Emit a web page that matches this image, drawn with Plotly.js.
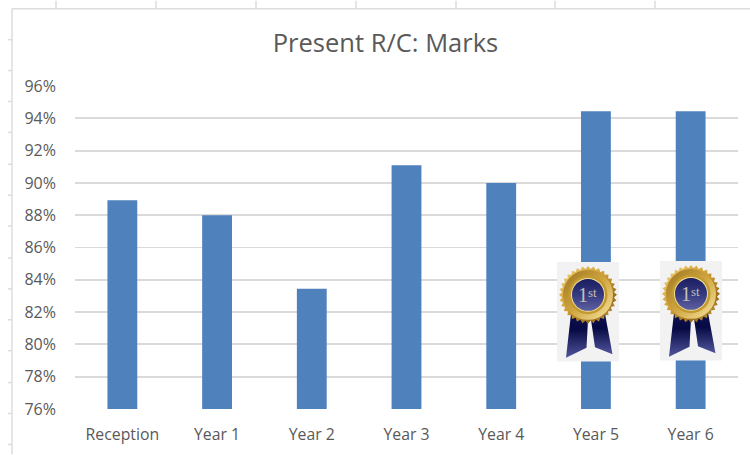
<!DOCTYPE html>
<html><head><meta charset="utf-8">
<script src="https://cdn.plot.ly/plotly-3.0.1.min.js"></script>
<style>html,body{margin:0;padding:0;background:#fff;overflow:hidden}</style>
</head><body><div id="chart" style="width:750px;height:455px"></div>
<script>
const categories = ["Reception","Year 1","Year 2","Year 3","Year 4","Year 5","Year 6"];
const marks = [0.8893,0.88,0.8344,0.911,0.90,0.9443,0.9443];
const tickValues = [0.76,0.78,0.80,0.82,0.84,0.86,0.88,0.90,0.92,0.94,0.96];
const chartTitle = "Present R/C: Marks";

const W=750,H=455,L=75,R=738,T=85.5,B=409.5;
const px=x=>(x-L)/(R-L), py=y=>(B-y)/(B-T);

function burst(cx,cy,r1,r2,n){
  let d="";
  for(let i=0;i<n*2;i++){
    const a=Math.PI*i/n, r=i%2?r2:r1;
    d+=(i?"L":"M")+(cx+r*Math.cos(a)).toFixed(2)+" "+(cy+r*Math.sin(a)).toFixed(2);
  }
  return d+"Z";
}
const medalSvg=`<svg xmlns="http://www.w3.org/2000/svg" width="186" height="300" viewBox="0 0 62 100">
<defs>
<linearGradient id="g" x1="0" y1="0" x2="1" y2="1"><stop offset="0" stop-color="#f3d277"/><stop offset="0.45" stop-color="#cf9f35"/><stop offset="0.75" stop-color="#9a6e1c"/><stop offset="1" stop-color="#e6c060"/></linearGradient>
<linearGradient id="h" x1="1" y1="1" x2="0" y2="0"><stop offset="0" stop-color="#f7e6a4"/><stop offset="0.5" stop-color="#d0a540"/><stop offset="1" stop-color="#9c7420"/></linearGradient>
<linearGradient id="b" x1="0" y1="0" x2="0" y2="1"><stop offset="0" stop-color="#1a1d5e"/><stop offset="0.5" stop-color="#35397f"/><stop offset="1" stop-color="#5d61a0"/></linearGradient>
<linearGradient id="r" x1="0" y1="0" x2="0" y2="1"><stop offset="0" stop-color="#10134f"/><stop offset="0.35" stop-color="#060942"/><stop offset="1" stop-color="#50559c"/></linearGradient>
</defs>
<rect width="62" height="100" fill="#f2f2f2"/>
<path d="M14 52L9 96L29.500 86L31 58Z" fill="url(#r)"/>
<path d="M34 58L38 85.500L55.500 92.500L48 52Z" fill="url(#r)"/>
<path d="${burst(31,33,29,26,32)}" fill="url(#g)"/>
<circle cx="31" cy="33" r="25" fill="url(#h)"/>
<circle cx="31" cy="33" r="19.500" fill="#c39a30"/>
<circle cx="31" cy="33" r="17" fill="#f0dd9c"/>
<circle cx="31" cy="33" r="16" fill="url(#b)"/>
</svg>`;
const medalUri="data:image/svg+xml;charset=utf-8,"+encodeURIComponent(medalSvg);
const medals=[{x:557,y:262},{x:660,y:261}];

const line=(x0,y0,x1,y1)=>({type:"line",xref:"paper",yref:"paper",x0:px(x0),x1:px(x1),y0:py(y0),y1:py(y1),layer:"below",line:{color:"#dcdcdc",width:1.5}});
const shapes=[line(12,8,750,8),line(12,8,12,455)];
[56,156,256,356,456,555,655].forEach(x=>shapes.push(line(x,0,x,8)));
[39,70,101,132,164,195,226,258,289,320,351,383,414,445].forEach(y=>shapes.push(line(8,y,12,y)));

const medalText=(m,t,dx,dy,size)=>({text:t,xref:"paper",yref:"paper",x:px(m.x+31+dx),y:py(m.y+33+dy),showarrow:false,xanchor:"center",yanchor:"middle",font:{family:"Liberation Serif, serif",size:size,color:"#c4c0b4"}});

Plotly.newPlot("chart",[{
  type:"bar",x:categories,y:marks,width:0.315,
  marker:{color:"#4f81bd",line:{width:0}},hoverinfo:"x+y"
}],{
  width:W,height:H,showlegend:false,
  paper_bgcolor:"#fff",plot_bgcolor:"#fff",
  margin:{l:L,r:W-R,t:T,b:H-B,pad:0},
  title:{text:chartTitle,x:385.500/W,xanchor:"center",y:1-43/H,yanchor:"middle",font:{family:"Open Sans, sans-serif",size:25.5,color:"#595959"}},
  font:{family:"Open Sans, sans-serif",size:15,color:"#595959"},
  xaxis:{type:"category",categories:categories,categoryorder:"array",categoryarray:categories,range:[-0.5,6.5],
    showgrid:false,showline:false,zeroline:false,ticks:"",ticklabelstandoff:14,tickfont:{size:15.8,color:"#595959"}},
  yaxis:{range:[0.76,0.96],tickvals:tickValues,tickformat:".0%",showgrid:true,gridcolor:"#dadada",gridwidth:1.8,
    zeroline:false,showline:false,ticks:"",ticklabelstandoff:18,tickfont:{size:16,color:"#595959"}},
  bargap:0.685,
  shapes:shapes,
  images:medals.map(m=>({source:medalUri,xref:"paper",yref:"paper",x:px(m.x),y:py(m.y),sizex:62/(R-L),sizey:100/(B-T),sizing:"stretch",xanchor:"left",yanchor:"top",layer:"above"})),
  annotations:medals.flatMap(m=>[medalText(m,"1",-5,0,20),medalText(m,"st",4.5,-2,13)])
},{displayModeBar:false,staticPlot:true});
</script></body></html>
